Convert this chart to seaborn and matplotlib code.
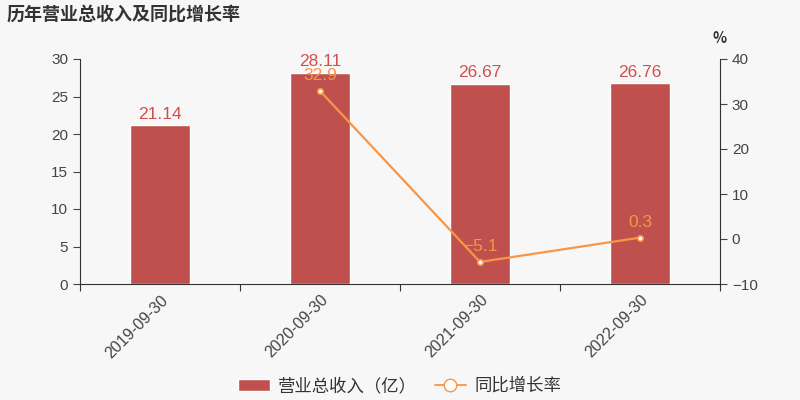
import numpy as np
import pandas as pd
import matplotlib
matplotlib.use("Agg")
import matplotlib.pyplot as plt
from matplotlib.lines import Line2D
import seaborn as sns

dates = ["2019-09-30", "2020-09-30", "2021-09-30", "2022-09-30"]
revenue = [21.14, 28.11, 26.67, 26.76]
growth = [np.nan, 32.9, -5.1, 0.3]
growth_labels = ["", "32.9", "−5.1", "0.3"]

bar_color = "#c0504d"
line_color = "#f79646"
text_color = "#333333"
bg = "#f7f7f7"

sns.set_style("ticks")
plt.rcParams["font.family"] = ["Noto Sans CJK SC", "DejaVu Sans"]
plt.rcParams["axes.unicode_minus"] = False

df = pd.DataFrame({"date": dates, "revenue": revenue, "growth": growth})
df["pos"] = range(len(df))

fig = plt.figure(figsize=(8, 4), dpi=100, facecolor=bg)
ax = fig.add_axes([0.1, 0.29, 0.8, 0.5625])
ax.set_facecolor(bg)

sns.barplot(data=df, x="date", y="revenue", color=bar_color, width=0.375,
            saturation=1, ax=ax, label="营业总收入（亿）")
h1, l1 = ax.get_legend_handles_labels()
if ax.get_legend() is not None:
    ax.get_legend().remove()
ax.set_ylim(0, 30)
ax.set_yticks([0, 5, 10, 15, 20, 25, 30])
ax.set_xlim(-0.5, 3.5)
ax.set_xticks([-0.5, 0.5, 1.5, 2.5, 3.5], minor=False)
ax.set_xticklabels([])
ax.set_xticks(range(4), minor=True)
ax.set_xticklabels(dates, minor=True, rotation=45, ha="right",
                   rotation_mode="anchor", fontsize=11.5, color="#444444",
                   family=["Liberation Sans", "DejaVu Sans"])
ax.tick_params(axis="x", which="minor", length=0, pad=6)
ax.tick_params(axis="x", which="major", length=5, color=text_color)
ax.tick_params(axis="y", colors="#444444", labelsize=11, length=5)
ax.set_xlabel("")
ax.set_ylabel("")
for s in ["top", "right"]:
    ax.spines[s].set_visible(False)
ax.spines["left"].set_color(text_color)
ax.spines["bottom"].set_color(text_color)
for t in ax.get_yticklabels():
    t.set_family(["Liberation Sans", "DejaVu Sans"])

for i, v in enumerate(revenue):
    ax.text(i, v + 0.5, f"{v:.2f}", ha="center", va="bottom",
            color="#d0504d", fontsize=12.5,
            family=["Liberation Sans", "DejaVu Sans"])

ax2 = ax.twinx()
sns.lineplot(data=df, x="pos", y="growth", color=line_color, linewidth=1.6,
             marker="o", markersize=4, markerfacecolor="white",
             markeredgecolor=line_color, markeredgewidth=1.2, ax=ax2,
             legend=False)
ax2.set_ylim(-10, 40)
ax2.set_yticks([-10, 0, 10, 20, 30, 40])
ax2.set_yticklabels(["−10", "0", "10", "20", "30", "40"],
                    family=["Liberation Sans", "DejaVu Sans"])
ax2.set_xlim(-0.5, 3.5)
ax2.set_xlabel("")
ax2.set_ylabel("")
ax2.tick_params(axis="y", colors="#444444", labelsize=11, length=5)
for s in ["top", "left", "bottom"]:
    ax2.spines[s].set_visible(False)
ax2.spines["right"].set_color(text_color)
for i, (v, lab) in enumerate(zip(growth, growth_labels)):
    if lab:
        ax2.text(i, v + 1.8, lab, ha="center", va="bottom",
                 color=line_color, fontsize=12.5,
                 family=["Liberation Sans", "DejaVu Sans"])

fig.text(0.9, 0.905, "%", ha="center", va="center", fontsize=10.5,
         color=text_color, fontweight="bold")
fig.text(0.008, 0.965, "历年营业总收入及同比增长率", ha="left", va="center",
         fontsize=13, fontweight="bold", color=text_color)

# separate legend handle with a bigger hollow marker
line_handle = Line2D([], [], color=line_color, linewidth=1.3, marker="o",
                     markersize=9, markerfacecolor="white",
                     markeredgecolor=line_color, markeredgewidth=1.0)
fig.legend(h1 + [line_handle], l1 + ["同比增长率"], loc="center",
           bbox_to_anchor=(0.5, 0.035), ncol=2, frameon=False, fontsize=12.5,
           handlelength=1.8, columnspacing=1.0, handletextpad=0.5,
           labelcolor=text_color)

fig.savefig("out.png", dpi=100, facecolor=bg)
